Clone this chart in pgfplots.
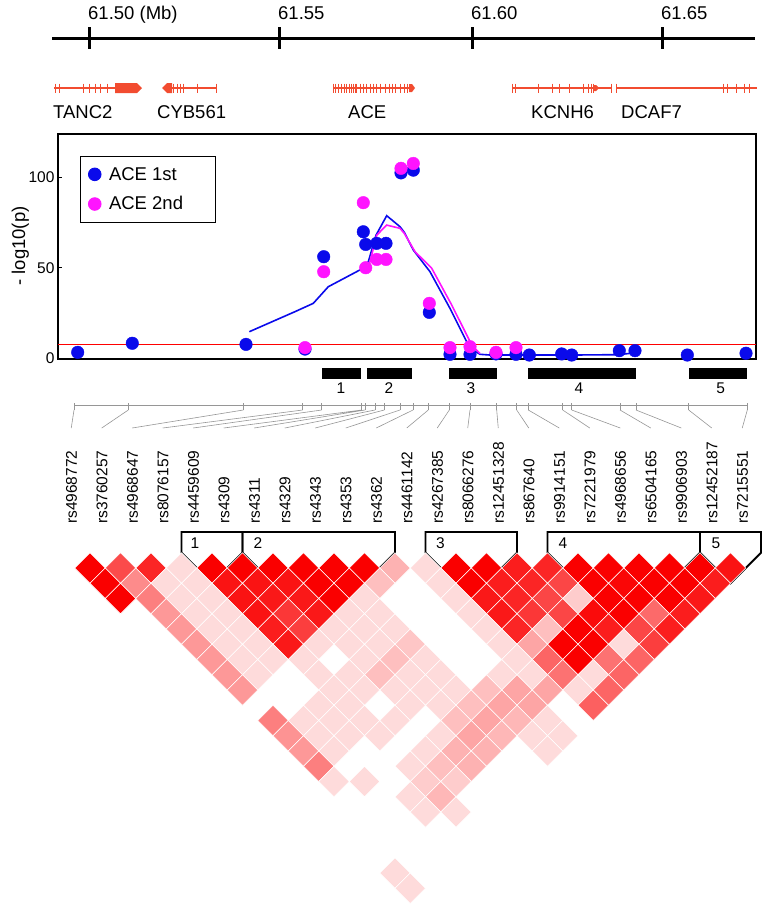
\documentclass[border=0pt]{standalone}
\usepackage{pgfplots}
\pgfplotsset{compat=1.18}
\usepackage{pgfplotstable}
\usepackage{fontspec}
\setmainfont{Liberation Sans}
\definecolor{genered}{RGB}{242,76,48}
\definecolor{ptblue}{RGB}{10,10,235}
\definecolor{ptmag}{RGB}{255,20,255}
\definecolor{mapgray}{RGB}{150,150,150}
\newcommand{\fA}{\fontsize{18.5pt}{22pt}\selectfont}
\newcommand{\fT}{\fontsize{15.5pt}{18pt}\selectfont}
\newcommand{\fS}{\fontsize{15.5pt}{18pt}\selectfont}

% LD table: SNP i, SNP j, shade (0 = white, 1 = full red)
\pgfplotstableread{
i j v
0 1 1
1 2 0.7
2 3 0.85
3 4 0.14
4 5 1
5 6 1
6 7 1
7 8 1
8 9 1
9 10 1
10 11 0.3
11 12 0.14
12 13 1
13 14 1
14 15 0.88
15 16 0.85
16 17 1
17 18 1
18 19 1
19 20 1
20 21 1
21 22 0.92
0 2 1
1 3 0.45
2 4 0.14
3 5 0.14
4 6 0.92
5 7 0.92
6 8 0.92
7 9 1
8 10 1
9 11 0.25
11 13 0.14
12 14 1
13 15 0.88
14 16 0.85
15 17 0.72
16 18 1
17 19 0.97
18 20 1
19 21 1
20 22 0.88
0 3 1
1 4 0.5
2 5 0.14
3 6 0.14
4 7 0.92
5 8 0.9
6 9 0.9
7 10 1
8 11 0.14
11 14 0.14
12 15 0.9
13 16 0.85
14 17 0.72
15 18 0.2
16 19 1
17 20 1
18 21 1
19 22 0.9
1 5 0.4
2 6 0.14
3 7 0.14
4 8 0.92
5 9 0.78
6 10 0.9
7 11 0.14
8 12 0.14
11 15 0.14
12 16 0.9
13 17 0.78
14 18 0.72
15 19 0.95
16 20 1
17 21 0.58
18 22 0.88
1 6 0.4
2 7 0.14
3 8 0.14
4 9 0.88
5 10 0.75
6 11 0.14
7 12 0.14
8 13 0.14
11 16 0.14
12 17 0.85
13 18 0.25
14 19 1
15 20 0.88
16 21 0.72
17 22 0.88
1 7 0.4
2 8 0.14
3 9 0.14
4 10 0.9
5 11 0.14
6 12 0.14
7 13 0.14
8 14 0.22
11 17 0.14
12 18 0.35
13 19 1
14 20 1
15 21 0.14
16 22 0.75
1 8 0.4
2 9 0.14
3 10 0.14
4 11 0.14
6 13 0.14
7 14 0.25
8 15 0.14
11 18 0.14
12 19 0.6
13 20 1
14 21 0.55
15 22 0.6
1 9 0.4
2 10 0.14
4 12 0.14
5 13 0.14
6 14 0.25
7 15 0.14
8 16 0.14
10 18 0.14
11 19 0.14
12 20 0.55
13 21 0.14
14 22 0.6
1 10 0.4
4 13 0.14
5 14 0.14
6 15 0.14
7 16 0.14
8 17 0.14
9 18 0.25
10 19 0.35
11 20 0.35
12 21 0.14
13 22 0.6
3 13 0.14
4 14 0.14
6 16 0.14
7 17 0.14
8 18 0.25
9 19 0.35
10 20 0.35
12 22 0.62
1 12 0.5
2 13 0.14
3 14 0.14
4 15 0.14
5 16 0.14
7 18 0.25
8 19 0.35
9 20 0.28
10 21 0.14
1 13 0.42
2 14 0.14
3 15 0.14
4 16 0.14
6 18 0.14
7 19 0.35
8 20 0.28
9 21 0.14
10 22 0.14
1 14 0.4
2 15 0.14
5 18 0.14
6 19 0.3
7 20 0.3
9 22 0.14
1 15 0.5
4 18 0.14
5 19 0.25
6 20 0.3
1 16 0.14
2 17 0.14
4 19 0.2
5 20 0.2
3 19 0.14
4 20 0.28
3 20 0.14
4 21 0.14
0 21 0.14
0 22 0.14
}\ldtable

\begin{document}
\begin{tikzpicture}[x=1pt,y=1pt]
\useasboundingbox (0,0) rectangle (768,-908);

% ---------------- canvas axis (pixel coordinates) ----------------
\begin{axis}[at={(0pt,0pt)}, anchor=north west, scale only axis,
  width=768pt, height=908pt, xmin=0, xmax=768, ymin=-908, ymax=0,
  hide axis, clip=false,
  colormap={ldmap}{rgb255(0cm)=(255,255,255); rgb255(1cm)=(250,0,0)}]

% genomic scale
\addplot[black, line width=3pt] coordinates {(52,-38) (755,-38)};
\addplot[only marks, mark=|, mark size=11pt, mark options={black, line width=3pt}]
  coordinates {(89,-38) (279,-38) (472,-38) (662,-38)};

% genes
\addplot[genered, line width=1.4pt] coordinates {(54,-88) (137,-88)};
\addplot[genered, fill=genered, draw=none] coordinates {(115,-83) (137,-83) (142,-88) (137,-93) (115,-93)} -- cycle;
\addplot[only marks, mark=|, mark size=4.5pt, mark options={genered, line width=0.8pt}]
  coordinates {(55,-88) (59,-88) (83,-88) (89,-88) (95,-88) (100,-88) (107,-88)};

\addplot[genered, line width=1.4pt] coordinates {(170,-88) (216,-88)};
\addplot[genered, fill=genered, draw=none] coordinates {(172,-83) (167,-83) (162,-88) (167,-93) (172,-93)} -- cycle;
\addplot[only marks, mark=|, mark size=4.5pt, mark options={genered, line width=0.8pt}]
  coordinates {(173,-88) (177,-88) (180,-88) (183,-88) (197,-88) (216,-88)};

\addplot[genered, line width=1.4pt] coordinates {(333,-88) (410,-88)};
\addplot[genered, fill=genered, draw=none] coordinates {(409,-84) (412,-84) (415,-88) (412,-92) (409,-92)} -- cycle;
\addplot[only marks, mark=|, mark size=4.5pt, mark options={genered, line width=0.6pt}]
  coordinates {(333.5,-88) (335.5,-88) (338.3,-88) (341.7,-88) (344,-88) (346.7,-88) (349.3,-88) (351.7,-88) (353.3,-88) (355,-88) (356.7,-88) (360,-88) (363.3,-88) (366.7,-88) (370,-88) (373.3,-88) (376.7,-88) (380,-88) (385.7,-88) (389,-88) (392.3,-88) (395.7,-88) (400.7,-88) (404,-88) (407.3,-88)};

\addplot[genered, line width=1.4pt] coordinates {(512,-88) (611,-88)};
\addplot[genered, fill=genered, draw=none] coordinates {(594,-85) (596,-85) (599,-88) (596,-91) (594,-91)} -- cycle;
\addplot[only marks, mark=|, mark size=4.5pt, mark options={genered, line width=0.8pt}]
  coordinates {(512,-88) (515,-88) (538,-88) (552,-88) (559,-88) (569,-88) (583,-88) (588,-88) (591,-88) (593,-88) (611,-88)};

\addplot[genered, line width=1.4pt] coordinates {(616,-88) (757,-88)};
\addplot[only marks, mark=|, mark size=4.5pt, mark options={genered, line width=0.8pt}]
  coordinates {(616,-88) (723,-88) (727,-88) (736,-88) (744,-88) (749,-88)};

% haplotype block bars
\addplot[fill=black, draw=none] coordinates {(321.7,-368) (361,-368) (361,-378.5) (321.7,-378.5)} -- cycle;
\addplot[fill=black, draw=none] coordinates {(366.7,-368) (411.7,-368) (411.7,-378.5) (366.7,-378.5)} -- cycle;
\addplot[fill=black, draw=none] coordinates {(449.3,-368) (496.7,-368) (496.7,-378.5) (449.3,-378.5)} -- cycle;
\addplot[fill=black, draw=none] coordinates {(527.7,-368) (636,-368) (636,-378.5) (527.7,-378.5)} -- cycle;
\addplot[fill=black, draw=none] coordinates {(688.7,-368) (747.3,-368) (747.3,-378.5) (688.7,-378.5)} -- cycle;

% SNP position map
\addplot[mapgray, line width=0.8pt] coordinates {(74,-405.5) (747.3,-405.5)};
\addplot[only marks, mark=|, mark size=3.5pt, mark options={mapgray, line width=0.8pt}]
  coordinates {(74,-406.5) (128.3,-406.5) (243.3,-406.5) (302.7,-406.5) (321.7,-406.5) (361.7,-406.5) (365,-406.5) (375,-406.5) (384.3,-406.5) (400,-406.5) (413,-406.5) (428.3,-406.5) (449.3,-406.5) (470,-406.5) (496.7,-406.5) (516.7,-406.5) (528.3,-406.5) (562.7,-406.5) (571.7,-406.5) (620,-406.5) (636,-406.5) (688.7,-406.5) (747.3,-406.5)};
\addplot[mapgray, line width=0.6pt, unbounded coords=jump] coordinates {
 (74,-410) (71.25,-428) (74,nan)
 (128.3,-410) (101.75,-428) (128.3,nan)
 (243.3,-410) (132.25,-428) (243.3,nan)
 (302.7,-410) (162.75,-428) (302.7,nan)
 (321.7,-410) (193.25,-428) (321.7,nan)
 (361.7,-410) (223.75,-428) (361.7,nan)
 (365,-410) (254.25,-428) (365,nan)
 (375,-410) (284.75,-428) (375,nan)
 (384.3,-410) (315.25,-428) (384.3,nan)
 (400,-410) (345.75,-428) (400,nan)
 (413,-410) (376.25,-428) (413,nan)
 (428.3,-410) (406.75,-428) (428.3,nan)
 (449.3,-410) (437.25,-428) (449.3,nan)
 (470,-410) (467.75,-428) (470,nan)
 (496.7,-410) (498.25,-428) (496.7,nan)
 (516.7,-410) (528.75,-428) (516.7,nan)
 (528.3,-410) (559.25,-428) (528.3,nan)
 (562.7,-410) (589.75,-428) (562.7,nan)
 (571.7,-410) (620.25,-428) (571.7,nan)
 (620,-410) (650.75,-428) (620,nan)
 (636,-410) (681.25,-428) (636,nan)
 (688.7,-410) (711.75,-428) (688.7,nan)
 (747.3,-410) (742.25,-428)};

% LD diamonds
\addplot[scatter, only marks, mark=square*, mark size=10.78pt,
  mark options={rotate=45, line width=0.5pt},
  scatter/use mapped color={draw=white, fill=mapped color},
  point meta=explicit, point meta min=0, point meta max=1]
  table[x expr={74.75+15.25*(\thisrow{i}+\thisrow{j})},
        y expr={-(568+15.25*(\thisrow{j}-\thisrow{i}-1))}, meta=v] {\ldtable};

% haplotype block outlines
\addplot[black, line width=1.8pt] coordinates {(181.5,-552.75) (212,-583.25) (242.5,-552.75) (242.5,-532) (181.5,-532)} -- cycle;
\addplot[black, line width=1.8pt] coordinates {(242.5,-552.75) (318.75,-629) (395,-552.75) (395,-532) (242.5,-532)} -- cycle;
\addplot[black, line width=1.8pt] coordinates {(425.5,-552.75) (471.25,-598.5) (517,-552.75) (517,-532) (425.5,-532)} -- cycle;
\addplot[black, line width=1.8pt] coordinates {(547.5,-552.75) (623.75,-629) (700,-552.75) (700,-532) (547.5,-532)} -- cycle;
\addplot[black, line width=1.8pt] coordinates {(700,-552.75) (730.5,-583.25) (761,-552.75) (761,-532) (700,-532)} -- cycle;
\end{axis}

% ---------------- association plot ----------------
\begin{axis}[at={(58pt,-134pt)}, anchor=north west, scale only axis,
  width=698pt, height=225pt, xmin=58, xmax=756, ymin=-0.5, ymax=124,
  xtick=\empty, ytick={0,50,100}, ytick pos=left, tick align=inside,
  major tick length=4pt, every tick/.style={black, line width=1pt},
  axis line style={black, line width=1.5pt},
  yticklabel style={font=\fT}, /pgf/number format/assume math mode=true,
  legend style={at={(axis cs:80,112.0)}, anchor=north west, draw=black,
    line width=0.9pt, font=\fA, inner xsep=8pt, inner ysep=9pt, row sep=11pt,
    cells={anchor=west}},
  legend image code/.code={\draw[mark repeat=2, mark phase=2, #1] plot coordinates {(0pt,0pt) (9pt,0pt) (18pt,0pt)};},
  clip=false]
\addplot[red, line width=1.2pt, forget plot] coordinates {(58,7.6) (756,7.6)};
\addplot[ptblue, line width=1.6pt, forget plot] coordinates {
 (249.3,14.6) (295,25.7) (313.3,30.3) (328.3,39.5) (361.7,49.3) (368.3,53.3) (376,68) (386.7,78.8) (400,72.7) (404.3,69.6) (413.3,59.8) (430,47.8) (450,27.5) (470,5.4) (480,2.1) (490,1.7) (571.7,1.7) (619.3,1.9) (635,3.0)};
\addplot[ptmag, line width=1.6pt, forget plot] coordinates {
 (368.3,49.7) (376.7,68) (386.7,73.6) (400,71.8) (404.3,69) (415,58.9) (431.7,49.7) (451.7,29.4) (471.7,7.3) (480,2.5)};
\addplot[only marks, mark=*, mark size=6.3pt, color=ptblue] coordinates {
 (77.7,3.2) (132.3,8.2) (246,7.6) (305,5.0) (323.7,56.1) (363.3,69.9) (365.7,62.9) (376.7,63.5) (386,63.5) (401,102.5) (413.3,104.0) (429.3,25.3) (450,2.1) (470,2.1) (496,2.3) (516,2.1) (529.3,1.7) (561.7,2.3) (571.7,1.7) (619.3,4.1) (635,4.1) (687.3,1.7) (746,2.7)};
\addlegendentry{\hspace*{6pt}ACE 1st}
\addplot[only marks, mark=*, mark size=6.3pt, color=ptmag] coordinates {
 (305,5.8) (323.7,47.8) (363.3,86.0) (365.7,50.0) (376.7,54.6) (386,54.6) (401,105.0) (413.3,107.7) (429.3,30.3) (450,5.8) (470,6.3) (496,3.2) (516,5.8)};
\addlegendentry{\hspace*{6pt}ACE 2nd\hspace*{22pt}}
\end{axis}

% ---------------- text ----------------
\node[anchor=base west, font=\fA, inner sep=0pt] at (88,-19) {61.50 (Mb)};
\node[anchor=base west, font=\fA, inner sep=0pt] at (278,-19) {61.55};
\node[anchor=base west, font=\fA, inner sep=0pt] at (471,-19) {61.60};
\node[anchor=base west, font=\fA, inner sep=0pt] at (661,-19) {61.65};

\node[anchor=base west, font=\fA, inner sep=0pt] at (53,-118) {TANC2};
\node[anchor=base west, font=\fA, inner sep=0pt] at (157,-118) {CYB561};
\node[anchor=base west, font=\fA, inner sep=0pt] at (348,-118) {ACE};
\node[anchor=base west, font=\fA, inner sep=0pt] at (531,-118) {KCNH6};
\node[anchor=base west, font=\fA, inner sep=0pt] at (621,-118) {DCAF7};

\node[rotate=90, anchor=base, font=\fA, inner sep=0pt] at (25,-246) {- log10(p)};

\node[anchor=base, font=\fT, inner sep=0pt] at (341,-393) {1};
\node[anchor=base, font=\fT, inner sep=0pt] at (389,-393) {2};
\node[anchor=base, font=\fT, inner sep=0pt] at (471,-393) {3};
\node[anchor=base, font=\fT, inner sep=0pt] at (579,-393) {4};
\node[anchor=base, font=\fT, inner sep=0pt] at (720.7,-393) {5};

\foreach \n [count=\k from 0] in {rs4968772,rs3760257,rs4968647,rs8076157,rs4459609,rs4309,rs4311,rs4329,rs4343,rs4353,rs4362,rs4461142,rs4267385,rs8066276,rs12451328,rs867640,rs9914151,rs7221979,rs4968656,rs6504165,rs9906903,rs12452187,rs7215551}
  \node[rotate=90, anchor=base west, font=\fS, inner sep=0pt] at ({76.75+30.5*\k},-524) {\n};

\node[font=\fT, inner sep=0pt] at (195,-543) {1};
\node[font=\fT, inner sep=0pt] at (258,-543) {2};
\node[font=\fT, inner sep=0pt] at (440.5,-543) {3};
\node[font=\fT, inner sep=0pt] at (563,-543) {4};
\node[font=\fT, inner sep=0pt] at (716,-543) {5};
\end{tikzpicture}
\end{document}
